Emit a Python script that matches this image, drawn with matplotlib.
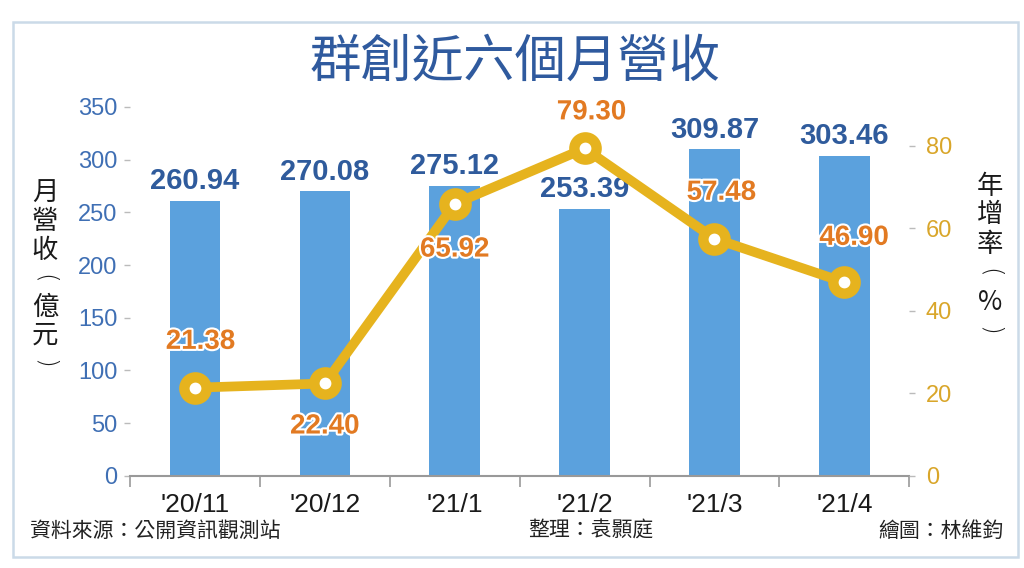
import matplotlib
matplotlib.use("Agg")
import matplotlib.pyplot as plt
import matplotlib.patheffects as pe
from matplotlib.patches import Rectangle
import numpy as np

# ---- data ----
months = ["'20/11", "'20/12", "'21/1", "'21/2", "'21/3", "'21/4"]
revenue = [260.94, 270.08, 275.12, 253.39, 309.87, 303.46]   # 億元
yoy = [21.38, 22.40, 65.92, 79.30, 57.48, 46.90]             # %
left_ticks = [0, 50, 100, 150, 200, 250, 300, 350]
right_ticks = [0, 20, 40, 60, 80]

title = "群創近六個月營收"
left_label = "月營收(億元)"
right_label = "年增率(%)"
source_txt = "資料來源：公開資訊觀測站"
editor_txt = "整理：袁顥庭"
drawer_txt = "繪圖：林維鈞"

# ---- style ----
CJK = ["Noto Sans CJK TC", "DejaVu Sans"]
NUM = ["Liberation Sans", "DejaVu Sans"]
bar_color = "#5BA1DD"
line_color = "#E6B31E"
bar_lbl_color = "#2F5B9C"
line_lbl_color = "#E27A22"
left_tick_color = "#3F6FB4"
right_tick_color = "#D9A62A"
title_color = "#2F5A9E"

# vertical offsets (points) for YoY labels: positive = above
yoy_offsets = [33, -31, -33, 26, 33, 32]
yoy_xoffsets = [4, 0, 0, 5, 5, 7]

fig = plt.figure(figsize=(10.24, 5.68), dpi=100)
fig.patch.set_facecolor("white")

# outer frame
fig.add_artist(Rectangle((0.013, 0.019), 0.981, 0.942, transform=fig.transFigure,
                         fill=False, edgecolor="#CBDAE8", linewidth=1.8))

ax = fig.add_axes([0.127, 0.162, 0.761, 0.650])
ax2 = ax.twinx()

x = np.arange(len(months))
ax.bar(x, revenue, width=0.39, color=bar_color, zorder=2)
ax.set_xlim(-0.5, len(months) - 0.5)
ax.set_ylim(0, 350)
ax.set_yticks(left_ticks)
ax.set_yticklabels([str(t) for t in left_ticks], fontfamily=NUM, fontsize=17,
                   color=left_tick_color)
ax.tick_params(axis="y", length=4, width=1, color="#BBBBBB", pad=5)
ax.set_xticks(x)
ax.set_xticklabels(months, fontfamily=NUM, fontsize=19, color="#1A1A1A")
ax.tick_params(axis="x", length=0, pad=12)
ax.set_xticks(np.arange(-0.5, len(months)), minor=True)
ax.tick_params(axis="x", which="minor", length=8, width=1.2, color="#999999",
               direction="out")

for s in ["top", "right", "left"]:
    ax.spines[s].set_visible(False)
ax.spines["bottom"].set_color("#999999")
ax.spines["bottom"].set_linewidth(1.5)
for s in ["top", "right", "left", "bottom"]:
    ax2.spines[s].set_visible(False)

for xi, v in zip(x, revenue):
    ax.annotate(f"{v:.2f}", (xi, v), xytext=(0, 14), textcoords="offset points",
                ha="center", va="center", fontsize=21, fontweight="bold",
                color=bar_lbl_color, fontfamily=NUM, zorder=3)

ax2.plot(x, yoy, color=line_color, linewidth=7, marker="o", markersize=16,
         markerfacecolor="white", markeredgecolor=line_color,
         markeredgewidth=7.5, zorder=4, solid_capstyle="round")
ax2.set_ylim(0, 89.4)
ax2.set_yticks(right_ticks)
ax2.set_yticklabels([str(t) for t in right_ticks], fontfamily=NUM, fontsize=17,
                    color=right_tick_color)
ax2.tick_params(axis="y", length=4, width=1, color="#BBBBBB", pad=8)

for xi, v, dy, dx in zip(x, yoy, yoy_offsets, yoy_xoffsets):
    ax2.annotate(f"{v:.2f}", (xi, v), xytext=(dx, dy), textcoords="offset points",
                 ha="center", va="center", fontsize=20, fontweight="bold",
                 color=line_lbl_color, fontfamily=NUM, zorder=5,
                 path_effects=[pe.withStroke(linewidth=3, foreground="white")])


def vertical_label(text, xc, ytop, step):
    """Stack characters vertically; brackets rotated as in vertical typesetting."""
    for i, ch in enumerate(text):
        if ch in "()":
            fig.text(xc, ytop - i * step, ch, ha="center", va="center",
                     fontfamily=["DejaVu Sans"], fontsize=18, rotation=-90,
                     color="#1A1A1A", fontweight="light")
        else:
            fig.text(xc, ytop - i * step, ch, ha="center", va="center",
                     fontfamily=CJK, fontsize=19, color="#1A1A1A")


vertical_label(left_label, 0.044, 1 - 193 / 568, 28.5 / 568)
vertical_label(right_label, 0.967, 1 - 186 / 568, 29 / 568)

# title
fig.text(0.503, 0.89, title, ha="center", va="center", fontfamily=CJK,
         fontsize=37, fontweight="medium", color=title_color)

# footer
fig.text(0.029, 0.065, source_txt, ha="left", va="center", fontfamily=CJK,
         fontsize=15, color="#222222")
fig.text(0.516, 0.065, editor_txt, ha="left", va="center", fontfamily=CJK,
         fontsize=15, color="#222222")
fig.text(0.980, 0.065, drawer_txt, ha="right", va="center", fontfamily=CJK,
         fontsize=15, color="#222222")

fig.savefig("out.png", dpi=100, facecolor="white")
